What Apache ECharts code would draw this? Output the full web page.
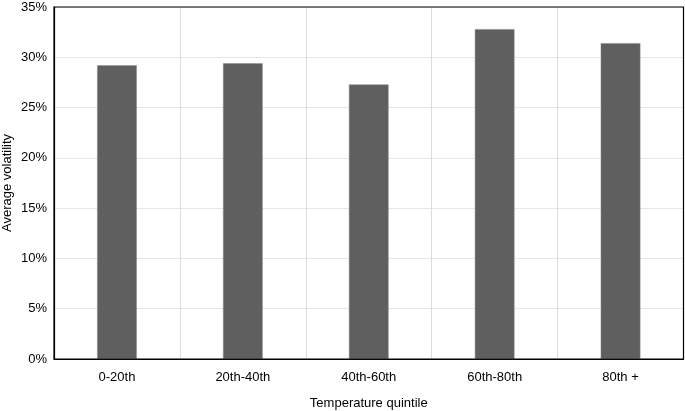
<!DOCTYPE html>
<html><head><meta charset="utf-8">
<script src="https://cdn.jsdelivr.net/npm/echarts@6/dist/echarts.min.js"></script>
<style>html,body{margin:0;padding:0;background:#fff}#c{width:685px;height:411px}</style>
</head><body><div id="c"></div>
<script>
const categories = ['0-20th', '20th-40th', '40th-60th', '60th-80th', '80th +'];
const volatility = [29.2, 29.4, 27.3, 32.8, 31.4];
const yTicks = [0, 5, 10, 15, 20, 25, 30, 35];

const chart = echarts.init(document.getElementById('c'));
chart.setOption({
  animation: false,
  grid: { left: 54, top: 7, right: 1.5, bottom: 52, z: 5, outerBoundsMode: 'none', containLabel: false, show: true, borderColor: '#000', borderWidth: 1.2, backgroundColor: 'transparent' },
  xAxis: {
    type: 'category', data: categories,
    name: 'Temperature quintile', nameLocation: 'middle', nameGap: 38,
    nameTextStyle: { fontFamily: 'Liberation Sans', fontSize: 13, color: '#000' },
    axisLine: { lineStyle: { color: '#000', width: 1.2 } },
    axisTick: { show: false },
    axisLabel: { fontFamily: 'Liberation Sans', fontSize: 13, color: '#000', margin: 12 },
    splitLine: { show: true, lineStyle: { color: '#dcdcdc' } }
  },
  yAxis: {
    type: 'value', min: yTicks[0], max: yTicks[yTicks.length - 1], interval: 5,
    name: 'Average volatility', nameLocation: 'middle', nameGap: 40, nameMoveOverlap: false,
    nameTextStyle: { fontFamily: 'Liberation Sans', fontSize: 13, color: '#000' },
    axisLine: { show: true, lineStyle: { color: '#000', width: 1.2 } },
    axisTick: { show: false },
    axisLabel: { fontFamily: 'Liberation Sans', fontSize: 13, color: '#000', margin: 7, formatter: v => v + '%' },
    splitLine: { show: true, lineStyle: { color: '#e6e6e6' } }
  },
  series: [{
    type: 'bar', data: volatility, barWidth: '31.5%',
    itemStyle: { color: '#5f5f5f', borderColor: '#8a8a8a', borderWidth: 0.5 }
  }]
});
</script></body></html>
